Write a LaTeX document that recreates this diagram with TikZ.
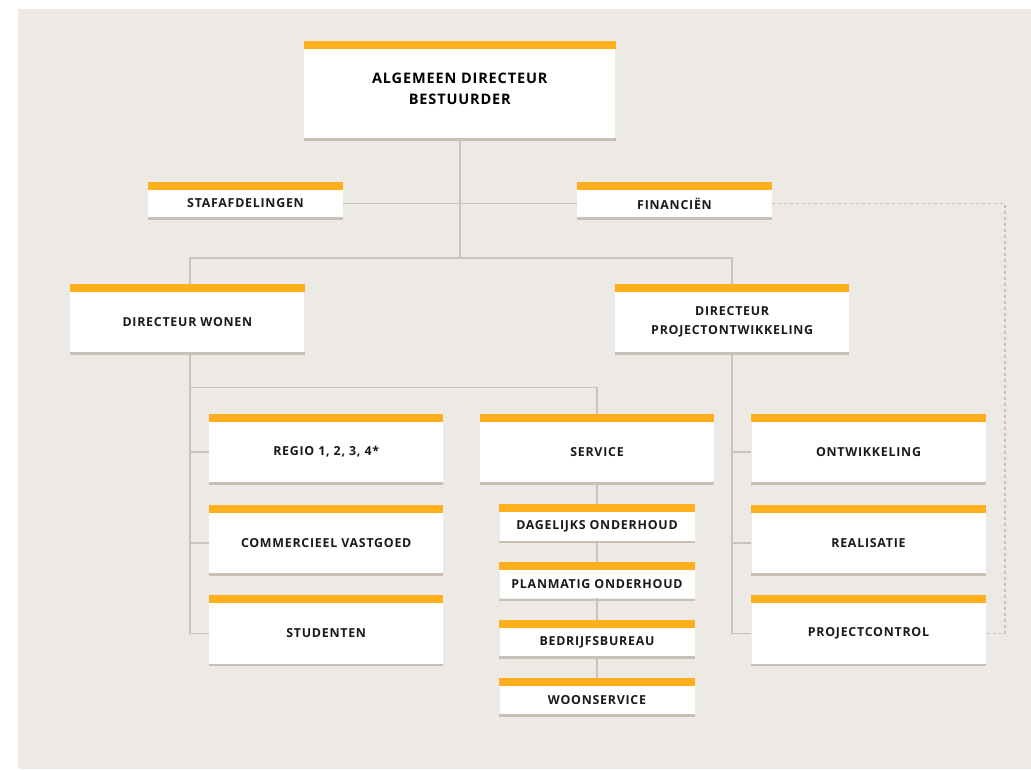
\documentclass[tikz,border=0pt]{standalone}
\usepackage{fontspec}
\usetikzlibrary{backgrounds}
\newfontfamily\orgfont[LetterSpace=6]{Open Sans}
\definecolor{panel}{RGB}{237,234,229}
\definecolor{barorange}{RGB}{253,176,28}
\definecolor{shadegray}{RGB}{200,192,182}
\definecolor{linkgray}{RGB}{202,195,185}
\definecolor{dashgray}{RGB}{196,191,185}
\definecolor{labelink}{RGB}{26,26,26}
\tikzset{
  orgbox/.style={rectangle, fill=white, inner sep=0pt, align=center,
    text=labelink, font=\orgfont\bfseries\fontsize{12.4}{19.5}\selectfont},
  headbox/.style={orgbox, text=black,
    font=\orgfont\bfseries\fontsize{14.5}{21}\selectfont},
  bigbox/.style={minimum width=234pt, minimum height=60.5pt},
  midbox/.style={minimum width=195pt, minimum height=27pt},
  smallbox/.style={minimum width=195pt, minimum height=28.5pt},
  link/.style={draw=linkgray, line width=1.5pt},
  dashlink/.style={draw=dashgray, line width=1.3pt, dash pattern=on 3pt off 3pt}
}
\begin{document}
\begin{tikzpicture}[x=1pt, y=-1pt]
  \useasboundingbox (0,0) rectangle (1031,769);

  % top level
  \node[headbox, minimum width=311pt, minimum height=89pt, text depth=10pt] (top) at (459.8,93.5)
    {ALGEMEEN DIRECTEUR\\BESTUURDER};
  \node[orgbox, midbox] (staf) at (245.5,203.5) {STAFAFDELINGEN};
  \node[orgbox, midbox] (fin)  at (674.5,203.5) {FINANCIËN};

  % directors
  \node[orgbox, bigbox] (dwon)  at (187.4,322) {DIRECTEUR WONEN};
  \node[orgbox, bigbox] (dproj) at (732.2,322) {DIRECTEUR\\PROJECTONTWIKKELING};

  % wonen
  \node[orgbox, bigbox] (regio) at (326.2,452)   {REGIO 1, 2, 3, 4*};
  \node[orgbox, bigbox] (comm)  at (326.2,543)   {COMMERCIEEL VASTGOED};
  \node[orgbox, bigbox] (stud)  at (326.2,633.5) {STUDENTEN};

  % service
  \node[orgbox, bigbox] (service) at (597,452) {SERVICE};
  \node[orgbox, smallbox] (dag)  at (597,526.5) {DAGELIJKS ONDERHOUD};
  \node[orgbox, smallbox] (plan) at (597,584.2) {PLANMATIG ONDERHOUD};
  \node[orgbox, smallbox] (bedr) at (597,642)   {BEDRIJFSBUREAU};
  \node[orgbox, smallbox] (woon) at (597,700)   {WOONSERVICE};

  % projectontwikkeling
  \node[orgbox, bigbox] (ontw)   at (868.5,452)   {ONTWIKKELING};
  \node[orgbox, bigbox] (realis) at (868.5,543)   {REALISATIE};
  \node[orgbox, bigbox] (projc)  at (868.5,633.5) {PROJECTCONTROL};

  % orange header bar and grey base line of every box
  \foreach \n in {top,staf,fin,dwon,dproj,regio,comm,stud,service,dag,plan,bedr,woon,ontw,realis,projc} {
    \fill[barorange] ([yshift=8pt]\n.north west) rectangle (\n.north east);
    \fill[shadegray] (\n.south west) rectangle ([yshift=-2.5pt]\n.south east);
  }

  \begin{scope}[on background layer]
    \fill[panel] (18,9) rectangle (1031,769);

    \coordinate (split)  at (459.8,258);
    \coordinate (wspine) at (190,387.5);
    \coordinate (dashx)  at (1005,0);

    \draw[link] (top) -- (split);
    \draw[link] (staf) -- (fin);
    \draw[link] (split) -| (wspine |- dwon);
    \draw[link] (split) -| (dproj);

    % wonen spine
    \draw[link] (wspine |- dwon) |- (stud);
    \draw[link] (wspine |- regio) -- (regio);
    \draw[link] (wspine |- comm) -- (comm);
    \draw[link] (wspine) -| (service);

    % service chain
    \draw[link] (service) -- (woon);

    % projectontwikkeling spine
    \draw[link] (dproj) |- (projc);
    \draw[link] (dproj |- ontw) -- (ontw);
    \draw[link] (dproj |- realis) -- (realis);

    % dotted reporting line
    \draw[dashlink] (fin.east) -- (fin.east -| dashx) -- (projc.east -| dashx) -- (projc.east);
  \end{scope}
\end{tikzpicture}
\end{document}
